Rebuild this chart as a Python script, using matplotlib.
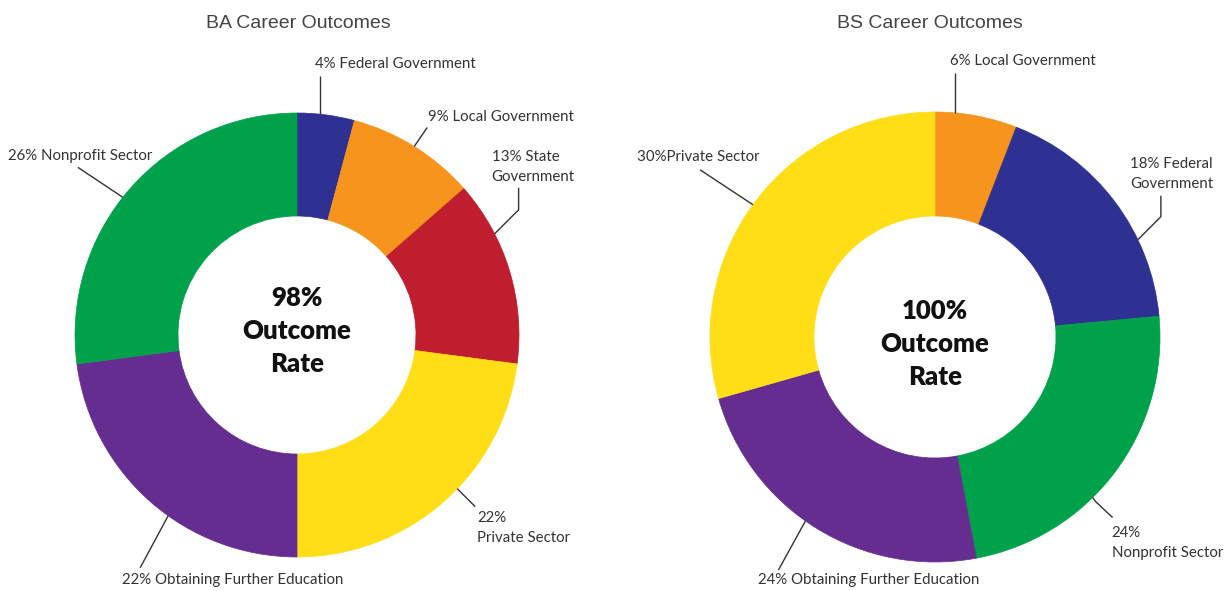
import numpy as np
import matplotlib.pyplot as plt

# BA data (clockwise from top)
ba_labels = ["4% Federal Government", "9% Local Government", "13% State\nGovernment",
             "22%\nPrivate Sector", "22% Obtaining Further Education", "26% Nonprofit Sector"]
ba_values = [4, 9, 13, 22, 22, 26]
ba_colors = ["#2e3192", "#f7941d", "#be1e2d", "#ffde17", "#662d91", "#00a14b"]

# BS data (clockwise from top)
bs_labels = ["6% Local Government", "18% Federal\nGovernment", "24%\nNonprofit Sector",
             "24% Obtaining Further Education", "30%Private Sector"]
bs_values = [6, 18, 24, 24, 30]
bs_colors = ["#f7941d", "#2e3192", "#00a14b", "#662d91", "#ffde17"]

ba_center_text = "98%\nOutcome\nRate"
bs_center_text = "100%\nOutcome\nRate"

fig = plt.figure(figsize=(12.31, 5.91), dpi=100)
ax = fig.add_axes([0, 0, 1, 1])

# leader layout: (fraction along wedge, leader segments in px, text offset)
ba_leaders = [
    (0.40, [(0, -38)], (-5, -12)),
    (0.50, [(13, -19)], (1, -10)),
    (0.29, [(24, -24), (0, -22)], (-27, -21)),
    (0.44, [(18, 18)], (2, 21)),
    (0.43, [(-28, 52)], (-18, 12)),
    (0.47, [(-45, -30)], (-70, -11)),
]
bs_leaders = [
    (0.24, [(0, -40)], (-5, -12)),
    (0.68, [(23, -23), (0, -21)], (-31, -22)),
    (0.60, [(3, 4), (17, 16)], (-1, 25)),
    (0.54, [(-27, 49)], (-20, 10)),
    (0.49, [(-53, -35)], (-63, -13)),
]


def donut(values, colors, labels, leaders, center, R, r_in, center_text, dy_center):
    wedges, _ = ax.pie(values, colors=colors, center=center, radius=R,
                       startangle=-90, counterclock=True, frame=True,
                       wedgeprops=dict(width=R - r_in, linewidth=0.5))
    for w, lab, (frac, segs, toff) in zip(wedges, labels, leaders):
        w.set_edgecolor(w.get_facecolor())
        a = np.deg2rad(w.theta1 + frac * (w.theta2 - w.theta1))
        x = center[0] + R * np.cos(a)
        y = center[1] + R * np.sin(a)
        xs, ys = [x], [y]
        for dx, dy in segs:
            x, y = x + dx, y + dy
            xs.append(x)
            ys.append(y)
        ax.plot(xs, ys, color="#333333", lw=1.0, solid_capstyle="butt")
        ax.text(x + toff[0], y + toff[1], lab, ha="left", va="center",
                fontsize=10.8, family="Lato", color="#333333", linespacing=1.55)
    ax.text(center[0], center[1] + dy_center, center_text, ha="center", va="center",
            fontsize=18.5, family="Lato", weight="heavy", color="#111111", linespacing=1.45)


donut(ba_values, ba_colors, ba_labels, ba_leaders, (297, 335), 222, 119, ba_center_text, -4)
donut(bs_values, bs_colors, bs_labels, bs_leaders, (935, 337), 225, 121, bs_center_text, 7)

ax.text(298, 23, "BA Career Outcomes", ha="center", va="center", fontsize=14,
        family="Liberation Sans", color="#444444")
ax.text(930, 23, "BS Career Outcomes", ha="center", va="center", fontsize=14,
        family="Liberation Sans", color="#444444")

ax.set_xlim(0, 1231)
ax.set_ylim(591, 0)
ax.set_aspect("auto")
ax.axis("off")

fig.savefig("out.png", dpi=100)
